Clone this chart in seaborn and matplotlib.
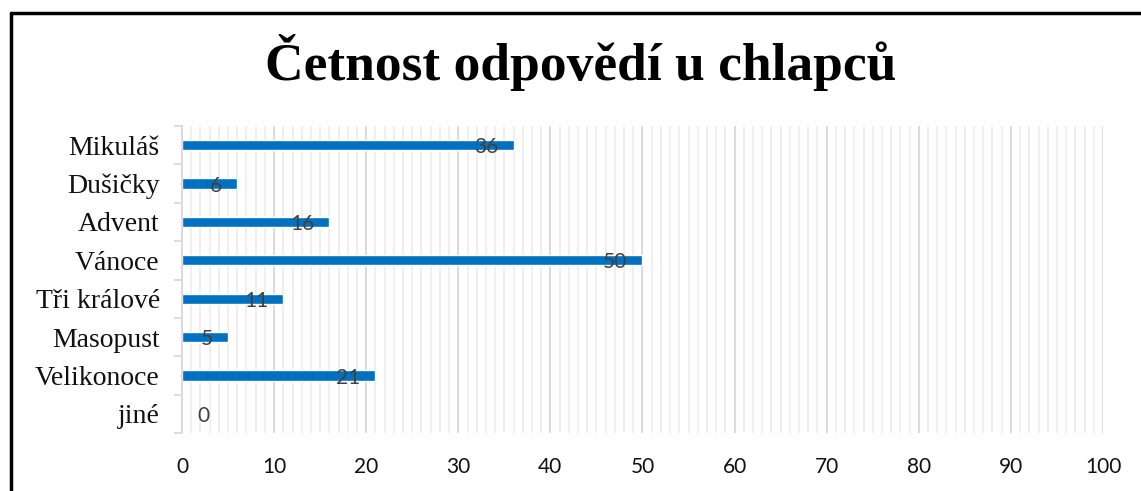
import matplotlib
matplotlib.use("Agg")
import matplotlib.pyplot as plt
from matplotlib.lines import Line2D
from matplotlib.ticker import MultipleLocator, FixedLocator
import seaborn as sns
import pandas as pd

categories = ["Mikuláš", "Dušičky", "Advent", "Vánoce", "Tři králové",
              "Masopust", "Velikonoce", "jiné"]
counts = [36, 6, 16, 50, 11, 5, 21, 0]
x_ticks = [0, 10, 20, 30, 40, 50, 60, 70, 80, 90, 100]
title = "Četnost odpovědí u chlapců"

df = pd.DataFrame({"Svátek": categories, "Počet": counts})

sns.set_theme(style="white")
plt.rcParams["font.family"] = ["Lato", "DejaVu Sans"]

fig = plt.figure(figsize=(11.41, 4.91), dpi=100)
ax = fig.add_axes([0.1595, 0.1181, 0.8072, 0.6253])

sns.barplot(data=df, x="Počet", y="Svátek", orient="h", color="#0070C0",
            saturation=1, width=0.27, ax=ax)

ax.set_xlim(0, 100)
ax.set_ylim(len(categories) - 0.5, -0.5)
ax.xaxis.set_major_locator(FixedLocator(x_ticks))
ax.xaxis.set_minor_locator(MultipleLocator(1))
ax.grid(axis="x", which="major", color="#d9d9d9", linewidth=1.3)
ax.grid(axis="x", which="minor", color="#eeeeee", linewidth=1.3)
ax.set_axisbelow(True)

ax.yaxis.set_minor_locator(FixedLocator([i - 0.5 for i in range(len(categories) + 1)]))
ax.tick_params(axis="y", which="major", length=0, pad=16)
ax.tick_params(axis="y", which="minor", length=6, color="#d9d9d9", width=1.3, left=True)
ax.tick_params(axis="x", which="both", length=0, pad=17, labelsize=15, labelcolor="#111111")
for lbl in ax.get_yticklabels():
    lbl.set_fontfamily(["Liberation Serif", "DejaVu Serif"])
    lbl.set_fontsize(20)
    lbl.set_color("#111111")

for s in ["top", "right", "bottom"]:
    ax.spines[s].set_visible(False)
ax.spines["left"].set_color("#d9d9d9")
ax.spines["left"].set_linewidth(1.3)
ax.set_xlabel("")
ax.set_ylabel("")

for i, v in enumerate(counts):
    if v > 0:
        ax.annotate(str(v), (v, i), xytext=(-11, -1.5), textcoords="offset points",
                    ha="right", va="center", fontsize=15, color="#404040")
    else:
        ax.annotate(str(v), (v, i), xytext=(11, -1.5), textcoords="offset points",
                    ha="left", va="center", fontsize=15, color="#404040")

fig.text(0.509, 0.873, title, ha="center", va="center", fontsize=38.5,
         fontweight="bold", family=["Liberation Serif", "DejaVu Serif"], color="black")

# frame cropped at right and bottom
fig.add_artist(Line2D([10.5 / 1141, 1.0], [1 - 12.5 / 491, 1 - 12.5 / 491],
                      transform=fig.transFigure, color="black", linewidth=2.5))
fig.add_artist(Line2D([10.5 / 1141, 10.5 / 1141], [0.0, 1 - 12.5 / 491],
                      transform=fig.transFigure, color="black", linewidth=2.5))

fig.savefig("out.png", dpi=100)
